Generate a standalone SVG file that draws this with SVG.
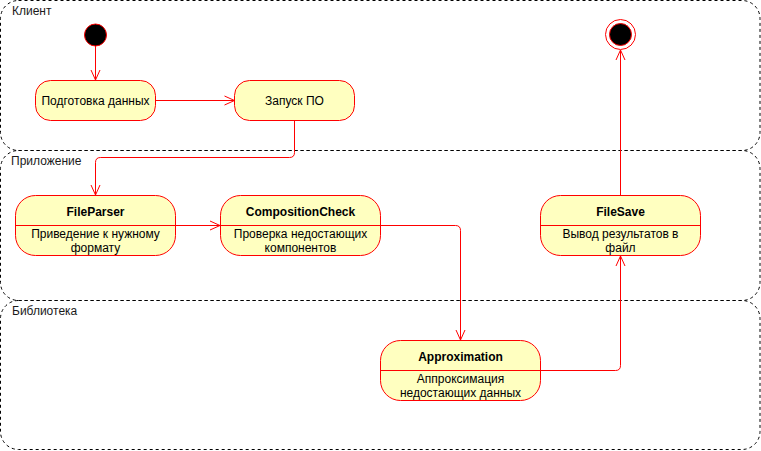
<svg xmlns="http://www.w3.org/2000/svg" width="761" height="451" viewBox="0 0 761 451">
<style>
.lane{fill:none;stroke:#000;stroke-width:1;stroke-dasharray:3 3}
.lbl{font-family:"Liberation Sans",Arial,sans-serif;font-size:12px;fill:#1a1a1a}
.st{fill:#ffffc0;stroke:#ff0000;stroke-width:1}
.div{stroke:#ff0000;stroke-width:1}
.t{font-family:"Liberation Sans",Arial,sans-serif;font-size:12px;fill:#000;text-anchor:middle}
.b{font-weight:bold}
.c{fill:none;stroke:#ff0000;stroke-width:1;marker-end:url(#arr)}
</style>
<defs>
<marker id="arr" markerUnits="userSpaceOnUse" markerWidth="12" markerHeight="12" viewBox="0 0 12 12" refX="11" refY="6" orient="auto">
<path d="M1,1.5 L11,6 L1,10.5" fill="none" stroke="#ff0000" stroke-width="1"/>
</marker>
</defs>
<rect width="761" height="451" fill="#fff"/>
<g id="lane-client">
<rect class="lane" x="0.5" y="0.5" width="759.5" height="150" rx="18"/>
<text class="lbl" x="12" y="15">Клиент</text>
</g>
<g id="lane-app">
<rect class="lane" x="0.5" y="150.5" width="759.5" height="150" rx="18"/>
<text class="lbl" x="11" y="165">Приложение</text>
</g>
<g id="lane-lib">
<rect class="lane" x="0.5" y="300.5" width="759.5" height="149" rx="18"/>
<text class="lbl" x="12" y="315">Библиотека</text>
</g>
<g id="start">
<circle cx="95.5" cy="35" r="11" fill="#000" stroke="#ff0000"/>
</g>
<g id="end">
<circle cx="620.5" cy="34.5" r="15" fill="#fff" stroke="#ff0000"/>
<circle cx="620.5" cy="34.5" r="11" fill="#000" stroke="#ff0000"/>
</g>
<g id="prep">
<rect class="st" x="35.5" y="80.5" width="120" height="40" rx="15"/>
<text class="t" x="95.5" y="104.5">Подготовка данных</text>
</g>
<g id="launch">
<rect class="st" x="234.5" y="80.5" width="120" height="40" rx="15"/>
<text class="t" x="294.5" y="104.5">Запуск ПО</text>
</g>
<g id="fileparser">
<rect class="st" x="15.5" y="195.5" width="160" height="60" rx="20"/>
<line class="div" x1="15.5" y1="225.5" x2="175.5" y2="225.5"/>
<text class="t b" x="95.5" y="216">FileParser</text>
<text class="t" x="95.5" y="238">Приведение к нужному</text>
<text class="t" x="95.5" y="252">формату</text>
</g>
<g id="compcheck">
<rect class="st" x="220.5" y="195.5" width="160" height="60" rx="20"/>
<line class="div" x1="220.5" y1="225.5" x2="380.5" y2="225.5"/>
<text class="t b" x="300.5" y="216">CompositionCheck</text>
<text class="t" x="300.5" y="238">Проверка недостающих</text>
<text class="t" x="300.5" y="252">компонентов</text>
</g>
<g id="filesave">
<rect class="st" x="540.5" y="195.5" width="160" height="60" rx="20"/>
<line class="div" x1="540.5" y1="225.5" x2="700.5" y2="225.5"/>
<text class="t b" x="620.5" y="216">FileSave</text>
<text class="t" x="620.5" y="238">Вывод результатов в</text>
<text class="t" x="620.5" y="252">файл</text>
</g>
<g id="approx">
<rect class="st" x="380.5" y="340.5" width="160" height="60" rx="20"/>
<line class="div" x1="380.5" y1="370.5" x2="540.5" y2="370.5"/>
<text class="t b" x="460.5" y="361">Approximation</text>
<text class="t" x="460.5" y="383">Аппроксимация</text>
<text class="t" x="460.5" y="397">недостающих данных</text>
</g>
<g id="connectors">
<path class="c" d="M95.5,46 L95.5,80"/>
<path class="c" d="M155.5,100.5 L234.5,100.5"/>
<path class="c" d="M294.5,120.5 L294.5,152.5 Q294.5,157.5 289.5,157.5 L100.5,157.5 Q95.5,157.5 95.5,162.5 L95.5,195"/>
<path class="c" d="M175.5,225.5 L220,225.5"/>
<path class="c" d="M380.5,225.5 L455.5,225.5 Q460.5,225.5 460.5,230.5 L460.5,340"/>
<path class="c" d="M540.5,370.5 L615.5,370.5 Q620.5,370.5 620.5,365.5 L620.5,256"/>
<path class="c" d="M620.5,195.5 L620.5,50"/>
</g>
</svg>
